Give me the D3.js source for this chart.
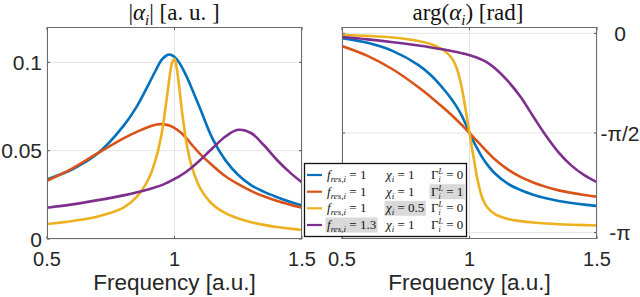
<!DOCTYPE html>
<html>
<head>
<meta charset="utf-8">
<script src="https://cdn.jsdelivr.net/npm/d3@7"></script>
<style>
  body { margin: 0; background: #fff; }
  svg { display: block; }
</style>
</head>
<body>
<svg id="chart" width="640" height="297"></svg>
<script>
(function () {
  'use strict';

  // Frequency grid [a.u.] shared by every curve
  const freq = [0.5, 0.6, 0.7, 0.8, 0.85, 0.9, 0.93, 0.95, 0.97, 0.98, 0.99, 1.0, 1.01,
    1.02, 1.03, 1.05, 1.07, 1.1, 1.15, 1.2, 1.25, 1.3, 1.35, 1.4, 1.45, 1.5];

  // |alpha_i|
  const magBlue   = [0.0338, 0.0395, 0.0485, 0.0640, 0.0745, 0.0880, 0.0965, 0.1015, 0.1040, 0.1044, 0.1040, 0.1030, 0.1015,
    0.0995, 0.0970, 0.0912, 0.0845, 0.0740, 0.0565, 0.0445, 0.0362, 0.0305, 0.0268, 0.0238, 0.0212, 0.0190];
  const magOrange = [0.0330, 0.0400, 0.0487, 0.0570, 0.0605, 0.0635, 0.0648, 0.0650, 0.0646, 0.0642, 0.0636, 0.0628, 0.0619,
    0.0608, 0.0596, 0.0565, 0.0530, 0.0482, 0.0415, 0.0355, 0.0310, 0.0272, 0.0242, 0.0217, 0.0196, 0.0177];
  const magYellow = [0.0085, 0.0102, 0.0128, 0.0178, 0.0235, 0.0345, 0.0470, 0.0600, 0.0800, 0.0910, 0.0995, 0.1020, 0.0955,
    0.0840, 0.0715, 0.0520, 0.0400, 0.0290, 0.0195, 0.0146, 0.0116, 0.0095, 0.0080, 0.0068, 0.0059, 0.0051];
  const magPurple = [0.0177, 0.0196, 0.0220, 0.0247, 0.0263, 0.0282, 0.0295, 0.0305, 0.0318, 0.0325, 0.0332, 0.0340, 0.0348,
    0.0356, 0.0365, 0.0385, 0.0408, 0.0446, 0.0515, 0.0580, 0.0618, 0.0600, 0.0532, 0.0450, 0.0380, 0.0320];

  // arg(alpha_i) [rad]
  const phaseBlue   = [-0.075, -0.150, -0.280, -0.500, -0.665, -0.885, -1.040, -1.160, -1.300, -1.385, -1.475, -1.571, -1.655,
    -1.738, -1.815, -1.955, -2.070, -2.210, -2.370, -2.470, -2.545, -2.600, -2.642, -2.675, -2.700, -2.720];
  const phaseOrange = [-0.200, -0.355, -0.570, -0.850, -1.010, -1.180, -1.290, -1.365, -1.445, -1.487, -1.529, -1.571, -1.614,
    -1.657, -1.700, -1.785, -1.870, -1.990, -2.145, -2.262, -2.350, -2.420, -2.475, -2.515, -2.548, -2.575];
  const phaseYellow = [-0.025, -0.040, -0.066, -0.120, -0.172, -0.270, -0.390, -0.550, -0.860, -1.090, -1.330, -1.571, -1.810,
    -2.050, -2.280, -2.590, -2.745, -2.850, -2.925, -2.960, -2.982, -2.997, -3.008, -3.016, -3.023, -3.028];
  const phasePurple = [-0.058, -0.095, -0.140, -0.192, -0.222, -0.255, -0.278, -0.295, -0.313, -0.323, -0.333, -0.344, -0.356,
    -0.369, -0.384, -0.418, -0.460, -0.550, -0.750, -1.000, -1.310, -1.615, -1.880, -2.085, -2.235, -2.345];

  // Legend parameters
  const legendFres  = ['1', '1', '1', '1.3'];
  const legendChi   = ['1', '1', '0.5', '1'];
  const legendGamma = ['0', '1', '0', '0'];
  const legendHighlight = [-1, 2, 1, 0]; // which column is shaded per row

  const xTicks = [0.5, 1, 1.5];
  const magTicks = [0, 0.05, 0.1];
  const phaseTicks = [0, -Math.PI / 2, -Math.PI];
  const phaseTickLabels = ['0', '-\u03C0/2', '-\u03C0'];

  const COLORS = ['#0072BD', '#D95319', '#EDB120', '#7E2F8E'];
  const mags = [magBlue, magOrange, magYellow, magPurple];
  const phases = [phaseBlue, phaseOrange, phaseYellow, phasePurple];

  const svg = d3.select('#chart');
  const SANS = 'Liberation Sans, Arial, sans-serif';
  const SERIF = 'Liberation Serif, Times New Roman, serif';

  const top = 27, bottom = 239;
  const xL = d3.scaleLinear().domain([0.5, 1.5]).range([47, 302]);
  const yL = d3.scaleLinear().domain([0, 0.12]).range([bottom, top]);
  const xR = d3.scaleLinear().domain([0.5, 1.5]).range([342, 597]);
  const yR = d3.scaleLinear().domain([-Math.PI - 0.1, 0.1]).range([bottom, top]);

  function drawPanel(id, x, y, yTicks, series) {
    const g = svg.append('g');
    const [x0, x1] = x.range();
    const [y0, y1] = y.range();

    g.append('rect').attr('x', x0).attr('y', y1).attr('width', x1 - x0).attr('height', y0 - y1)
      .attr('fill', '#fff');

    // grid
    g.selectAll('.gx').data(xTicks).enter().append('line')
      .attr('x1', d => x(d)).attr('x2', d => x(d)).attr('y1', y1).attr('y2', y0)
      .attr('stroke', '#e3e3e3').attr('stroke-width', 1);
    g.selectAll('.gy').data(yTicks).enter().append('line')
      .attr('x1', x0).attr('x2', x1).attr('y1', d => y(d)).attr('y2', d => y(d))
      .attr('stroke', '#e3e3e3').attr('stroke-width', 1);

    // inward ticks on all sides
    const tk = 3;
    xTicks.forEach(d => {
      g.append('line').attr('x1', x(d)).attr('x2', x(d)).attr('y1', y0).attr('y2', y0 - tk).attr('stroke', '#555');
      g.append('line').attr('x1', x(d)).attr('x2', x(d)).attr('y1', y1).attr('y2', y1 + tk).attr('stroke', '#555');
    });
    yTicks.forEach(d => {
      g.append('line').attr('x1', x0).attr('x2', x0 + tk).attr('y1', y(d)).attr('y2', y(d)).attr('stroke', '#555');
      g.append('line').attr('x1', x1).attr('x2', x1 - tk).attr('y1', y(d)).attr('y2', y(d)).attr('stroke', '#555');
    });

    // curves
    svg.append('clipPath').attr('id', id)
      .append('rect').attr('x', x0).attr('y', y1).attr('width', x1 - x0).attr('height', y0 - y1);
    const line = d3.line()
      .x((d, i) => x(freq[i]))
      .y(d => y(d))
      .curve(d3.curveCatmullRom.alpha(0.5));
    const cg = g.append('g').attr('clip-path', `url(#${id})`);
    series.forEach((s, i) => {
      cg.append('path').attr('d', line(s))
        .attr('fill', 'none').attr('stroke', COLORS[i])
        .attr('stroke-width', 2.6).attr('stroke-linejoin', 'round');
    });

    // box
    g.append('rect').attr('x', x0 + 0.5).attr('y', y1 + 0.5)
      .attr('width', x1 - x0 - 1).attr('height', y0 - y1 - 1)
      .attr('fill', 'none').attr('stroke', '#6a6a6a').attr('stroke-width', 1);

    // x tick labels + label
    g.selectAll('.xt').data(xTicks).enter().append('text')
      .attr('x', d => x(d)).attr('y', 266)
      .attr('text-anchor', 'middle').attr('font-family', SANS).attr('font-size', 20)
      .attr('fill', '#262626')
      .text(d => d3.format('')(d));
    g.append('text').attr('x', (x0 + x1) / 2).attr('y', 290)
      .attr('text-anchor', 'middle').attr('font-family', SANS).attr('font-size', 22.5)
      .attr('fill', '#262626')
      .text('Frequency [a.u.]');
    return g;
  }

  // sequential math text, pieces: {t, it, fs, dy, stack}
  function mathRun(g, x, y, pieces, baseSize, family) {
    let cx = x, lastX = x;
    pieces.forEach(p => {
      const px = p.stack ? lastX : cx;
      const t = g.append('text')
        .attr('x', px).attr('y', y + (p.dy || 0))
        .attr('font-family', family).attr('font-size', p.fs || baseSize)
        .attr('font-style', p.it ? 'italic' : 'normal')
        .attr('fill', '#111')
        .attr('xml:space', 'preserve')
        .text(p.t);
      const w = t.node().getComputedTextLength();
      if (p.stack) {
        cx = Math.max(cx, px + w);
      } else {
        lastX = px;
        cx = px + w;
      }
    });
    return cx;
  }

  function centeredTitle(cx, y, pieces) {
    const g = svg.append('g');
    const end = mathRun(g, 0, y, pieces, 23, SERIF);
    g.attr('transform', `translate(${cx - end / 2},0)`);
  }

  // Left panel: magnitude
  const left = drawPanel('clipL', xL, yL, magTicks, mags);
  left.selectAll('.yt').data(magTicks).enter().append('text')
    .attr('x', 42).attr('y', d => yL(d)).attr('dy', '0.36em')
    .attr('text-anchor', 'end').attr('font-family', SANS).attr('font-size', 21)
    .attr('fill', '#262626')
    .text(d => d3.format('')(d));

  // Right panel: phase
  const right = drawPanel('clipR', xR, yR, phaseTicks, phases);
  right.selectAll('.yt').data(phaseTicks).enter().append('text')
    .attr('x', 620).attr('y', d => yR(d)).attr('dy', '0.36em')
    .attr('text-anchor', 'middle').attr('font-family', SANS).attr('font-size', 21)
    .attr('fill', '#262626')
    .text((d, i) => phaseTickLabels[i]);

  // Titles
  centeredTitle(174, 20, [
    { t: '|' }, { t: '\u03B1', it: true }, { t: 'i', it: true, fs: 15, dy: 5 }, { t: '| [a. u. ]' }
  ]);
  centeredTitle(468, 20, [
    { t: 'arg(' }, { t: '\u03B1', it: true }, { t: 'i', it: true, fs: 15, dy: 5 }, { t: ') [rad]' }
  ]);

  // Legend
  const lg = svg.append('g');
  lg.append('rect').attr('x', 304.5).attr('y', 163.5).attr('width', 162).attr('height', 73)
    .attr('fill', '#fff').attr('stroke', '#111').attr('stroke-width', 1.3);
  const rowY = [175, 191.7, 208.3, 225];
  const colX = [327, 386, 431];
  const shade = lg.append('g');
  rowY.forEach((ry, i) => {
    lg.append('line').attr('x1', 307).attr('x2', 322).attr('y1', ry).attr('y2', ry)
      .attr('stroke', COLORS[i]).attr('stroke-width', 2.2);
    const base = ry + 4;
    const ends = [];
    ends.push(mathRun(lg, colX[0], base, [
      { t: 'f', it: true }, { t: 'res,i', it: true, fs: 9, dy: 3 }, { t: ' = ' + legendFres[i] }
    ], 13, SERIF));
    ends.push(mathRun(lg, colX[1], base, [
      { t: '\u03C7', it: true }, { t: 'i', it: true, fs: 9, dy: 3 }, { t: ' = ' + legendChi[i] }
    ], 13, SERIF));
    ends.push(mathRun(lg, colX[2], base, [
      { t: '\u0393' }, { t: 'L', it: true, fs: 8, dy: -5 }, { t: 'i', it: true, fs: 8, dy: 3, stack: true },
      { t: ' = ' + legendGamma[i] }
    ], 13, SERIF));
    const h = legendHighlight[i];
    if (h >= 0) {
      shade.append('rect')
        .attr('x', colX[h] - 1.5).attr('y', ry - 7.5)
        .attr('width', ends[h] - colX[h] + 3).attr('height', 15)
        .attr('fill', '#d9d9d9');
    }
  });
})();
</script>
</body>
</html>
